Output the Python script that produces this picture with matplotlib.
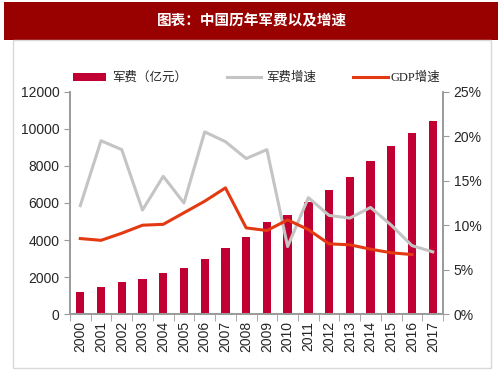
import numpy as np
import matplotlib
matplotlib.use("Agg")
from matplotlib import pyplot as plt
from matplotlib.patches import Rectangle
from matplotlib.lines import Line2D
from matplotlib.ticker import FuncFormatter

plt.rcParams['font.family'] = ['Liberation Sans', 'Noto Sans CJK SC', 'DejaVu Sans']

years = [str(y) for y in range(2000, 2018)]
spending = [1207.5, 1442.0, 1707.8, 1907.9, 2200.0, 2475.0, 2979.4, 3554.9, 4178.8,
            4951.1, 5333.4, 6027.9, 6691.9, 7410.6, 8289.5, 9087.8, 9765.8, 10444.0]
spending_growth = [12.2, 19.5, 18.5, 11.7, 15.5, 12.5, 20.5, 19.4, 17.5,
                   18.5, 7.6, 13.1, 11.1, 10.8, 12.0, 10.0, 7.7, 7.0]
gdp_growth = [8.5, 8.3, 9.1, 10.0, 10.1, 11.4, 12.7, 14.2, 9.7,
              9.4, 10.6, 9.5, 7.9, 7.8, 7.3, 6.9, 6.7]

bar_color = '#C00032'
gray_color = '#C4C4C4'
red_color = '#E33A12'
spine_color = '#9A9A9A'
text_color = '#262626'

fig = plt.figure(figsize=(5.03, 3.78), dpi=100)

# title bar and frame
fig.add_artist(Rectangle((0.008, 0.894), 0.982, 0.101, transform=fig.transFigure,
                         facecolor='#990000', edgecolor='none'))
fig.text(0.5, 0.946, '图表：中国历年军费以及增速', color='white', fontsize=10.5,
         fontweight='bold', ha='center', va='center',
         family=['Noto Sans CJK SC', 'DejaVu Sans'])
fig.add_artist(Rectangle((0.026, 0.026), 0.95, 0.868, transform=fig.transFigure,
                         facecolor='none', edgecolor='#D9D9D9', linewidth=1))

ax = fig.add_axes([0.139, 0.169, 0.742, 0.588])
ax2 = ax.twinx()

x = np.arange(len(years))
ax.bar(x, spending, width=0.4, color=bar_color, zorder=2)
ax2.plot(np.arange(len(spending_growth)), spending_growth, color=gray_color, lw=2.2, zorder=3)
ax2.plot(np.arange(len(gdp_growth)), gdp_growth, color=red_color, lw=2.2, zorder=4)

ax.set_xlim(-0.5, len(years) - 0.5)
ax.set_ylim(0, 12000)
ax.set_yticks(np.arange(0, 12001, 2000))
ax2.set_ylim(0, 25)
ax2.set_yticks(np.arange(0, 26, 5))
ax2.yaxis.set_major_formatter(FuncFormatter(lambda v, p: '%d%%' % v))

ax.set_xticks(x)
ax.set_xticklabels(years, rotation=90, fontsize=10, color=text_color)
ax.set_xticks(np.arange(-0.5, len(years)), minor=True)
ax.tick_params(axis='x', which='major', length=0, pad=5)
ax.tick_params(axis='x', which='minor', length=5, color=spine_color, direction='out')
ax.tick_params(axis='y', length=4, color=spine_color, labelsize=10, labelcolor=text_color)
ax2.tick_params(axis='y', length=4, color=spine_color, labelsize=10, labelcolor=text_color)

for a in (ax, ax2):
    a.spines['top'].set_visible(False)
    for s in ('left', 'right', 'bottom'):
        a.spines[s].set_color(spine_color)
        a.spines[s].set_linewidth(1.2)

# legend drawn on top
ly = 0.796
fig.add_artist(Rectangle((0.145, ly - 0.011), 0.066, 0.022, transform=fig.transFigure,
                         facecolor=bar_color, edgecolor='none'))
fig.text(0.222, ly, '军费（亿元）', fontsize=9, va='center', color=text_color,
         family=['Noto Sans CJK SC', 'DejaVu Sans'])
fig.add_artist(Line2D([0.451, 0.518], [ly, ly], transform=fig.transFigure,
                      color=gray_color, lw=2.2))
fig.text(0.528, ly, '军费增速', fontsize=9, va='center', color=text_color,
         family=['Noto Sans CJK SC', 'DejaVu Sans'])
fig.add_artist(Line2D([0.702, 0.772], [ly, ly], transform=fig.transFigure,
                      color=red_color, lw=2.2))
fig.text(0.776, ly, 'GDP增速', fontsize=9, va='center', color=text_color,
         family=['Liberation Serif', 'Noto Sans CJK SC', 'DejaVu Sans'])

fig.savefig('out.png', dpi=100)
